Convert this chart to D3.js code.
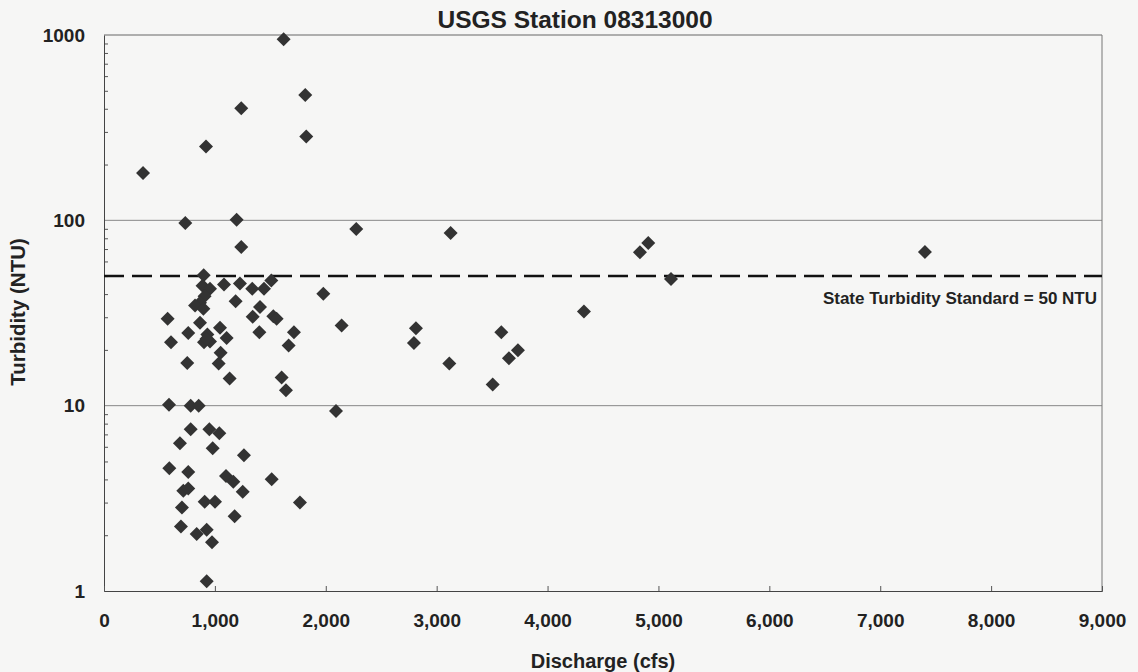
<!DOCTYPE html>
<html>
<head>
<meta charset="utf-8">
<title>USGS Station 08313000</title>
<script src="https://d3js.org/d3.v7.min.js"></script>
<style>
  body { margin: 0; background: #f6f6f5; }
  svg { font-family: "Liberation Sans", Arial, sans-serif; font-weight: bold; }
</style>
</head>
<body>
<script>
// discharge (cfs) and turbidity (NTU)
var discharge = [
  1620, 1815, 1238, 1824, 920, 352,
  733, 1196, 2275, 1238,
  3126, 4908, 4833, 5113, 4328, 2813, 2795, 3583, 3733, 3652, 3114, 3505,
  7403,
  899, 889, 956, 1082, 1226, 1337, 1443, 1509, 1978, 907, 866, 821, 896, 1187,
  1407, 1341, 1527, 1557, 574, 760, 866, 932, 1046, 1106, 1401, 1713, 2143,
  604, 902, 956, 925, 1665, 1052, 1034, 751, 1133, 1602, 1641, 586, 782, 854, 2092,
  782, 950, 1040, 685, 980, 1262, 589, 760, 1100, 1166, 1512, 715, 760, 1251,
  908, 1001, 1767, 703, 1178, 694, 836, 926, 974, 926
];
var turbidity = [
  950, 475, 402, 283, 250, 180,
  96.7, 100.7, 89.8, 71.8,
  85.4, 75.5, 67.2, 48.3, 32.2, 26.2, 21.8, 24.9, 19.9, 18, 16.9, 13,
  67.5,
  50.5, 44.4, 42.7, 45, 45.6, 42.7, 42.8, 47.3, 40.2, 38.9, 35.9, 34.7, 33.3, 36.6,
  34.1, 30.2, 30.4, 29.4, 29.4, 24.7, 28, 24.2, 26.3, 23.2, 24.9, 24.9, 27.1,
  22, 22, 22.2, 23, 21.1, 19.3, 16.9, 17, 14, 14.2, 12.1, 10.1, 10, 10, 9.35,
  7.45, 7.45, 7.1, 6.27, 5.89, 5.4, 4.6, 4.39, 4.18, 3.88, 4.01, 3.47, 3.57, 3.43,
  3.03, 3.03, 3.0, 2.82, 2.53, 2.23, 2.03, 2.14, 1.83, 1.13
];
var xTicks = [0, 1000, 2000, 3000, 4000, 5000, 6000, 7000, 8000, 9000];
var yTicks = [1, 10, 100, 1000];
var standard = 50;

var width = 1138, height = 672;
var margin = { top: 35, right: 36, bottom: 81, left: 104 };

var svg = d3.select('body').append('svg')
  .attr('width', width)
  .attr('height', height);

var x = d3.scaleLinear()
  .domain([0, 9000])
  .range([margin.left, width - margin.right]);

var y = d3.scaleLog()
  .domain([1, 1000])
  .range([height - margin.bottom, margin.top]);

// gridlines at the decades
svg.append('g')
  .selectAll('line')
  .data(yTicks.slice(1))
  .enter().append('line')
    .attr('x1', x(0)).attr('x2', x(9000))
    .attr('y1', function(d) { return y(d); })
    .attr('y2', function(d) { return y(d); })
    .attr('stroke', function(d) { return d == 1000 ? '#666' : '#888'; })
    .attr('stroke-width', 1);

// right border
svg.append('line')
  .attr('x1', x(9000)).attr('x2', x(9000))
  .attr('y1', y(1000)).attr('y2', y(1))
  .attr('stroke', '#777');

// y axis with minor ticks inside
var minor = [];
[1, 10, 100].forEach(function(d) {
  for (var k = 2; k <= 9; k++) minor.push(d * k);
});
svg.append('g')
  .attr('transform', 'translate(' + x(0) + ',0)')
  .call(d3.axisRight(y).tickValues(minor).tickSize(4).tickFormat(''))
  .call(function(g) {
    g.select('.domain').remove();
    g.selectAll('line').attr('stroke', '#555');
  });

var yAxis = svg.append('g')
  .attr('transform', 'translate(' + x(0) + ',0)')
  .call(d3.axisLeft(y).tickValues(yTicks).tickSize(0).tickPadding(19)
    .tickFormat(d3.format('d')));
yAxis.select('.domain').attr('stroke', '#444');
yAxis.selectAll('text')
  .attr('font-size', 19).attr('font-weight', 'bold')
  .attr('fill', '#222').attr('font-family', '"Liberation Sans", Arial, sans-serif');

// x axis, ticks pointing up into the plot
var xAxis = svg.append('g')
  .attr('transform', 'translate(0,' + y(1) + ')')
  .call(d3.axisBottom(x).tickValues(xTicks).tickSize(-5).tickPadding(23)
    .tickFormat(d3.format(',')));
xAxis.select('.domain').attr('stroke', '#444');
xAxis.selectAll('line').attr('stroke', '#555');
xAxis.selectAll('text')
  .attr('font-size', 19).attr('font-weight', 'bold')
  .attr('fill', '#222').attr('font-family', '"Liberation Sans", Arial, sans-serif');

// state standard
svg.append('line')
  .attr('x1', x(0)).attr('x2', x(9000))
  .attr('y1', y(standard)).attr('y2', y(standard))
  .attr('stroke', '#111')
  .attr('stroke-width', 2.5)
  .attr('stroke-dasharray', '20,8');

svg.append('text')
  .attr('x', x(9000) - 5)
  .attr('y', y(standard) + 28)
  .attr('text-anchor', 'end')
  .attr('font-size', 17)
  .attr('fill', '#222')
  .text('State Turbidity Standard = 50 NTU');

// points
var diamond = 'M0,-7L7,0L0,7L-7,0Z';
svg.append('g')
  .selectAll('path')
  .data(d3.range(discharge.length))
  .enter().append('path')
    .attr('d', diamond)
    .attr('transform', function(i) {
      return 'translate(' + x(discharge[i]) + ',' + y(turbidity[i]) + ')';
    })
    .attr('fill', '#333');

// titles
svg.append('text')
  .attr('x', 575).attr('y', 28)
  .attr('text-anchor', 'middle')
  .attr('font-size', 24.5)
  .attr('fill', '#222')
  .text('USGS Station 08313000');

svg.append('text')
  .attr('x', 603).attr('y', 668)
  .attr('text-anchor', 'middle')
  .attr('font-size', 20)
  .attr('fill', '#222')
  .text('Discharge (cfs)');

svg.append('text')
  .attr('transform', 'translate(25,' + 312 + ') rotate(-90)')
  .attr('text-anchor', 'middle')
  .attr('font-size', 20.5)
  .attr('fill', '#222')
  .text('Turbidity (NTU)');
</script>
</body>
</html>
